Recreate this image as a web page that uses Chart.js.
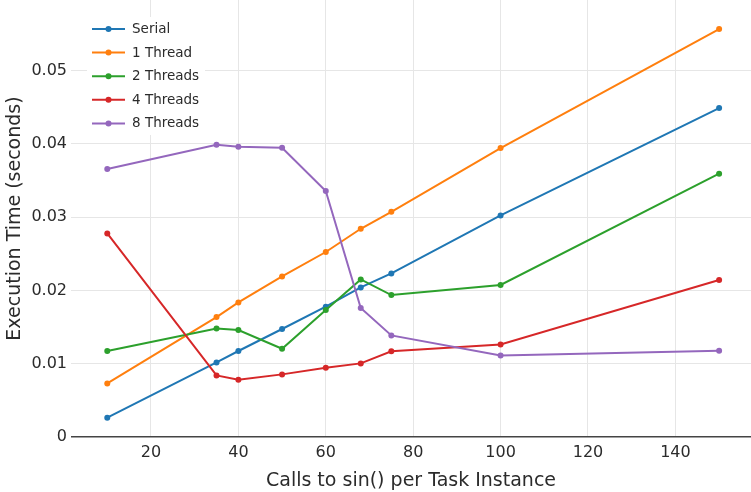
<!DOCTYPE html>
<html>
<head>
<meta charset="utf-8">
<script src="https://cdn.jsdelivr.net/npm/chart.js@4"></script>
<style>
  body { margin: 0; background: #fff; }
  #wrap { width: 751px; height: 492px; position: relative; }
</style>
</head>
<body>
<div id="wrap"><canvas id="timing_chart"></canvas></div>
<script>
// calls to sin() per task instance
const callsPerTask = [10, 35, 40, 50, 60, 68, 75, 100, 150];

const serial = [0.00263, 0.01017, 0.01173, 0.01473, 0.01777, 0.0204, 0.02231, 0.03022, 0.04486];
const oneThread = [0.00731, 0.01636, 0.01836, 0.0219, 0.02523, 0.0284, 0.03072, 0.03941, 0.05564];
const twoThreads = [0.01173, 0.01481, 0.01459, 0.01204, 0.01732, 0.02149, 0.01936, 0.02073, 0.03591];
const fourThreads = [0.02777, 0.0084, 0.00781, 0.00854, 0.00945, 0.01004, 0.01168, 0.01263, 0.02141];
const eightThreads = [0.03655, 0.03986, 0.03959, 0.03945, 0.03355, 0.01759, 0.01386, 0.01113, 0.01177];

const seriesNames = ["Serial", "1 Thread", "2 Threads", "4 Threads", "8 Threads"];
const seriesValues = [serial, oneThread, twoThreads, fourThreads, eightThreads];
const seriesColors = ["#1f77b4", "#ff7f0e", "#2ca02c", "#d62728", "#9467bd"];

const xTicks = [20, 40, 60, 80, 100, 120, 140];
const yTicks = [0, 0.01, 0.02, 0.03, 0.04, 0.05];

const fontFamily = "'DejaVu Sans', Verdana, sans-serif";
const textColor = "#2b2b2b";
const gridColor = "#e6e6e6";

const datasets = seriesNames.map((name, i) => ({
    label: name,
    data: callsPerTask.map((x, j) => ({ x: x, y: seriesValues[i][j] })),
    borderColor: seriesColors[i],
    backgroundColor: seriesColors[i],
    borderWidth: 2,
    pointRadius: 3,
    pointBorderWidth: 0,
    pointHoverRadius: 3,
    tension: 0,
    order: seriesNames.length - i
}));

// legend drawn inside the plot, plotly style
const insideLegend = {
    id: "insideLegend",
    afterDraw(chart) {
        const c = chart.ctx;
        const x0 = 87, y0 = 17, rowH = 23.6;
        c.save();
        c.fillStyle = "#fff";
        c.fillRect(x0, y0, 118, rowH * chart.data.datasets.length);
        chart.data.datasets.forEach((ds, i) => {
            const y = y0 + 12 + i * rowH;
            c.strokeStyle = ds.borderColor;
            c.lineWidth = 2;
            c.beginPath();
            c.moveTo(92, y);
            c.lineTo(125, y);
            c.stroke();
            c.fillStyle = ds.borderColor;
            c.beginPath();
            c.arc(108.5, y, 3, 0, Math.PI * 2);
            c.fill();
            c.fillStyle = textColor;
            c.font = "13.5px " + fontFamily;
            c.textBaseline = "middle";
            c.fillText(ds.label, 132, y + 0.5);
        });
        c.restore();
    }
};

const ctx_timing = document.getElementById("timing_chart");

new Chart(ctx_timing, {
    type: "line",
    data: { datasets: datasets },
    plugins: [insideLegend],
    options: {
        responsive: true,
        maintainAspectRatio: false,
        animation: false,
        layout: { padding: 0, autoPadding: false },
        plugins: {
            legend: { display: false },
            tooltip: { enabled: false }
        },
        scales: {
            x: {
                type: "linear",
                min: 1.7,
                max: 157.3,
                afterBuildTicks: (scale) => { scale.ticks = xTicks.map(v => ({ value: v })); },
                afterFit: (scale) => {
                    scale.height = 55;
                    scale.paddingLeft = 0;
                    scale.paddingRight = 0;
                },
                grid: { color: gridColor, drawTicks: false },
                border: { display: false },
                ticks: {
                    font: { family: fontFamily, size: 16 },
                    color: textColor,
                    padding: 6,
                    maxRotation: 0
                },
                title: {
                    display: true,
                    text: "Calls to sin() per Task Instance",
                    font: { family: fontFamily, size: 19 },
                    color: textColor,
                    padding: { top: 0, bottom: 0 }
                }
            },
            y: {
                min: 0,
                max: 0.0596,
                afterBuildTicks: (scale) => { scale.ticks = yTicks.map(v => ({ value: v })); },
                afterFit: (scale) => {
                    scale.width = 71;
                    scale.paddingTop = 0;
                    scale.paddingBottom = 0;
                },
                grid: {
                    color: (c) => c.tick && c.tick.value === 0 ? "#444" : gridColor,
                    lineWidth: (c) => c.tick && c.tick.value === 0 ? 1.5 : 1,
                    drawTicks: false
                },
                border: { display: false },
                ticks: {
                    font: { family: fontFamily, size: 16 },
                    color: textColor,
                    padding: 4,
                    callback: (v) => v === 0 ? "0" : v.toFixed(2)
                },
                title: {
                    display: true,
                    text: "Execution Time (seconds)",
                    font: { family: fontFamily, size: 19 },
                    color: textColor,
                    padding: { top: 4, bottom: 0 }
                }
            }
        }
    }
});
</script>
</body>
</html>
